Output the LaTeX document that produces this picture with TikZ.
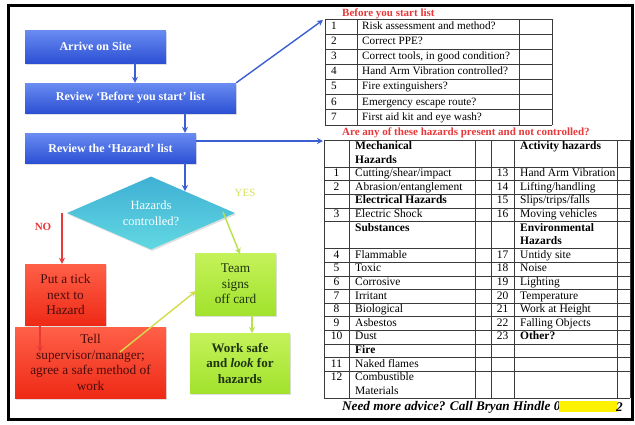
\documentclass[tikz,border=0pt]{standalone}
\usepackage{fontspec}
\setmainfont{Liberation Serif}
\usetikzlibrary{arrows.meta,shapes.geometric,shadows}
\definecolor{blueT}{HTML}{6A8CF2}
\definecolor{blueB}{HTML}{2C50D4}
\definecolor{bluearr}{HTML}{3B5FD2}
\definecolor{cyanT}{HTML}{3FB0D4}
\definecolor{cyanB}{HTML}{62D8E2}
\definecolor{redT}{HTML}{FF6048}
\definecolor{redB}{HTML}{EE2A16}
\definecolor{greenT}{HTML}{C4F25A}
\definecolor{greenB}{HTML}{A2E22C}
\definecolor{redtxt}{HTML}{4A0C0C}
\definecolor{greentxt}{HTML}{1E3410}
\definecolor{titred}{HTML}{E8383A}
\definecolor{yescol}{HTML}{D6E25C}
\definecolor{yesarr}{HTML}{B8E24A}
\definecolor{linkarr}{HTML}{D4DC4C}
\definecolor{gridcol}{HTML}{3A3A3A}
\newcommand\hzcell[4]{\node[cell] (#1) at (#2,{140+(#3+0.5)*13.6}) {#4};}
\newcommand\hznum[4]{\node[numc] (#1) at (#2,{140+(#3+0.5)*13.6}) {#4};}
\begin{document}
\begin{tikzpicture}[x=1pt,y=-1pt,
  shad/.style={drop shadow={opacity=0.25,shadow xshift=1.2pt,shadow yshift=-1.5pt}},
  bluebox/.style={shad,top color=blueT,bottom color=blueB,text=white,inner sep=0,
    font=\fontsize{12}{14}\selectfont\bfseries},
  redbox/.style={shad,top color=redT,bottom color=redB,text=redtxt,inner sep=0,align=center,
    font=\fontsize{13.3}{15.5}\selectfont},
  greenbox/.style={shad,top color=greenT,bottom color=greenB,text=greentxt,inner sep=0,align=center,
    font=\fontsize{13.3}{15.5}\selectfont},
  barrow/.style={draw=bluearr,line width=1.4pt,-{Stealth[length=6pt,width=6pt]}},
  rarrow/.style={draw=titred,line width=1.4pt,-{Stealth[length=6pt,width=6pt]}},
  garrow/.style={draw=yesarr,line width=1.4pt,-{Stealth[length=6pt,width=6pt]}},
  larrow/.style={draw=linkarr,line width=1.4pt,-{Stealth[length=6pt,width=6pt]}},
  gridline/.style={draw=gridcol,line width=0.8pt},
  cell/.style={anchor=west,inner sep=0,text height=8pt,text depth=2.5pt,
    font=\fontsize{11.5}{13}\selectfont},
  numc/.style={anchor=center,inner sep=0,text height=8pt,text depth=2.5pt,
    font=\fontsize{11.5}{13}\selectfont},
  tcell/.style={anchor=west,inner sep=0,text height=8pt,text depth=2.5pt,
    font=\fontsize{11.2}{13}\selectfont}
]
\useasboundingbox (0,0) rectangle (635,424);
\fill[white] (0,0) rectangle (635,424);
\draw[line width=3pt] (8,5) rectangle (632,419);

% ---- flow chart ----
\node[bluebox,minimum width=141pt,minimum height=33pt] (arrive) at (95.5,46.5) {Arrive on Site};
\node[bluebox,minimum width=211pt,minimum height=30pt] (rev1) at (130.5,98) {Review `Before you start' list};
\node[bluebox,minimum width=171pt,minimum height=30pt] (rev2) at (110.5,148) {Review the `Hazard' list};
\node[diamond,shad,aspect=2.3,top color=cyanT,bottom color=cyanB,text=white,inner sep=0,
  minimum width=168pt,minimum height=73pt,align=center,font=\fontsize{12.5}{15.5}\selectfont]
  (dia) at (151,213) {Hazards\\controlled?};
\node[redbox,minimum width=81pt,minimum height=61pt] (red1) at (65.5,294.5) {Put a tick\\next to\\Hazard};
\node[redbox,minimum width=151pt,minimum height=71pt] (red2) at (90.5,362.5) {Tell\\supervisor/manager;\\agree a safe method of\\work};
\node[greenbox,minimum width=81pt,minimum height=62pt] (grn1) at (235.5,284) {Team\\signs\\off card};
\node[greenbox,minimum width=100pt,minimum height=60pt,font=\fontsize{13}{15.5}\selectfont\bfseries] (grn2) at (240,363) {Work safe\\and \textit{look} for\\hazards};

\node[text=yescol,font=\fontsize{11}{13}\selectfont] (yes) at (245,193) {YES};
\node[text=titred,font=\fontsize{11}{13}\selectfont\bfseries] (no) at (43,227) {NO};

\coordinate (xa) at (135,0);
\coordinate (xb) at (185,0);
\coordinate (xno) at (62,0);
\coordinate (dtop) at (185,191);
\coordinate (t1nw) at (323,20);
\coordinate (t2nw) at (323,141);
\draw[barrow] (xa |- arrive.south) -- (xa |- rev1.north);
\draw[barrow] (xb |- rev1.south) -- (xb |- rev2.north);
\draw[barrow] (xb |- rev2.south) -- (dtop);
\draw[barrow] (rev1.north east) -- (t1nw);
\draw[barrow] (rev2.east |- t2nw) -- (t2nw);
\draw[rarrow] (xno |- dia.west) -- (xno |- red1.north);
\coordinate (r1s) at (40,325);
\coordinate (r2in) at (40,352);
\draw[rarrow] (r1s) -- (r2in);
\coordinate (dyes) at (223,212);
\coordinate (g1top) at (240,254);
\draw[garrow] (dyes) -- (g1top);
\coordinate (g1b) at (252,315);
\coordinate (g2t) at (252,333);
\draw[garrow] (g1b) -- (g2t);
\coordinate (r2link) at (120,352);
\coordinate (g1left) at (196,291);
\draw[larrow] (r2link) -- (g1left);

% ---- before you start table ----
\node[text=titred,anchor=west,inner sep=0,font=\fontsize{11}{13}\selectfont\bfseries] (tit1) at (342,14) {Before you start list};
\foreach \k in {0,...,7} \draw[gridline] (325,{19+\k*15.14}) -- (552,{19+\k*15.14});
\foreach \x in {325,357,519,552} \draw[gridline] (\x,19) -- (\x,125);
\foreach \n/\t [count=\k from 0] in {1/Risk assessment and method?,2/Correct PPE?,3/{Correct tools, in good condition?},4/Hand Arm Vibration controlled?,5/Fire extinguishers?,6/Emergency escape route?,7/First aid kit and eye wash?}{
  \node[tcell] (bn\n) at (331,{19+(\k+0.5)*15.14}) {\n};
  \node[tcell] (bt\n) at (362,{19+(\k+0.5)*15.14}) {\t};
}

% ---- hazards table ----
\node[text=titred,anchor=west,inner sep=0,font=\fontsize{11}{13}\selectfont\bfseries] (tit2) at (342,133) {Are any of these hazards present and not controlled?};
\foreach \k in {0,2,3,4,5,6,8,9,10,11,12,13,14,15,16,17,19} \draw[gridline] (324,{140+\k*13.6}) -- (630,{140+\k*13.6});
\foreach \x in {324,349,475,491,514,617,630} \draw[gridline] (\x,140) -- (\x,398.4);

\hzcell{lh1}{355}{0}{\textbf{Mechanical}}
\hzcell{lh2}{355}{1}{\textbf{Hazards}}
\hznum{n1}{336.5}{2}{1}\hzcell{l1}{355}{2}{Cutting/shear/impact}
\hznum{n2}{336.5}{3}{2}\hzcell{l2}{355}{3}{Abrasion/entanglement}
\hzcell{lh3}{355}{4}{\textbf{Electrical Hazards}}
\hznum{n3}{336.5}{5}{3}\hzcell{l3}{355}{5}{Electric Shock}
\hzcell{lh4}{355}{6}{\textbf{Substances}}
\hznum{n4}{336.5}{8}{4}\hzcell{l4}{355}{8}{Flammable}
\hznum{n5}{336.5}{9}{5}\hzcell{l5}{355}{9}{Toxic}
\hznum{n6}{336.5}{10}{6}\hzcell{l6}{355}{10}{Corrosive}
\hznum{n7}{336.5}{11}{7}\hzcell{l7}{355}{11}{Irritant}
\hznum{n8}{336.5}{12}{8}\hzcell{l8}{355}{12}{Biological}
\hznum{n9}{336.5}{13}{9}\hzcell{l9}{355}{13}{Asbestos}
\hznum{n10}{336.5}{14}{10}\hzcell{l10}{355}{14}{Dust}
\hzcell{lh5}{355}{15}{\textbf{Fire}}
\hznum{n11}{336.5}{16}{11}\hzcell{l11}{355}{16}{Naked flames}
\hznum{n12}{336.5}{17}{12}\hzcell{l12}{355}{17}{Combustible}
\hzcell{l12b}{355}{18}{Materials}

\hzcell{rh1}{520}{0}{\textbf{Activity hazards}}
\hznum{n13}{502.5}{2}{13}\hzcell{r13}{520}{2}{Hand Arm Vibration}
\hznum{n14}{502.5}{3}{14}\hzcell{r14}{520}{3}{Lifting/handling}
\hznum{n15}{502.5}{4}{15}\hzcell{r15}{520}{4}{Slips/trips/falls}
\hznum{n16}{502.5}{5}{16}\hzcell{r16}{520}{5}{Moving vehicles}
\hzcell{rh2}{520}{6}{\textbf{Environmental}}
\hzcell{rh3}{520}{7}{\textbf{Hazards}}
\hznum{n17}{502.5}{8}{17}\hzcell{r17}{520}{8}{Untidy site}
\hznum{n18}{502.5}{9}{18}\hzcell{r18}{520}{9}{Noise}
\hznum{n19}{502.5}{10}{19}\hzcell{r19}{520}{10}{Lighting}
\hznum{n20}{502.5}{11}{20}\hzcell{r20}{520}{11}{Temperature}
\hznum{n21}{502.5}{12}{21}\hzcell{r21}{520}{12}{Work at Height}
\hznum{n22}{502.5}{13}{22}\hzcell{r22}{520}{13}{Falling Objects}
\hznum{n23}{502.5}{14}{23}\hzcell{r23}{520}{14}{\textbf{Other?}}

% ---- footer ----
\node[anchor=west,inner sep=0,font=\fontsize{13.2}{15}\selectfont\bfseries\itshape] (adv) at (342,407) {Need more advice? Call Bryan Hindle 0};
\node[fill=yellow,inner sep=0,minimum width=58pt,minimum height=11pt] (redact) at (588,406.5) {};
\node[anchor=west,inner sep=0,font=\fontsize{13.2}{15}\selectfont\bfseries\itshape] (adv2) at (616,407) {2};
\end{tikzpicture}
\end{document}
